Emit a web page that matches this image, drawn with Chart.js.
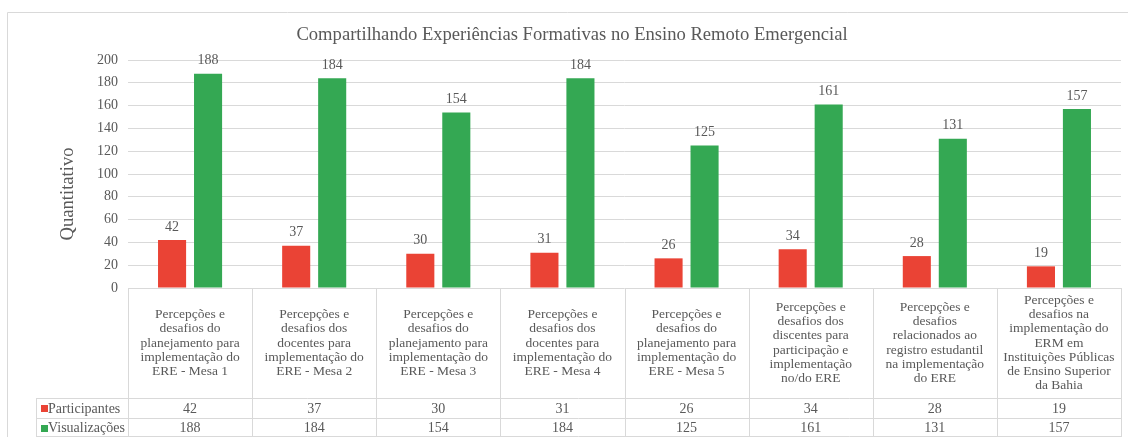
<!DOCTYPE html>
<html>
<head>
<meta charset="utf-8">
<script src="https://cdn.jsdelivr.net/npm/chart.js"></script>
<style>
  html, body { margin: 0; padding: 0; background: #fff; }
  #wrap { width: 1128px; height: 437px; position: relative; }
</style>
</head>
<body>
<div id="wrap"><canvas id="chart"></canvas></div>
<script>
// categories, one array of text lines per table column
const categorias = [
  ["Percepções e", "desafios do", "planejamento para", "implementação do", "ERE - Mesa 1"],
  ["Percepções e", "desafios dos", "docentes para", "implementação do", "ERE - Mesa 2"],
  ["Percepções e", "desafios do", "planejamento para", "implementação do", "ERE - Mesa 3"],
  ["Percepções e", "desafios dos", "docentes para", "implementação do", "ERE - Mesa 4"],
  ["Percepções e", "desafios do", "planejamento para", "implementação do", "ERE - Mesa 5"],
  ["Percepções e", "desafios dos", "discentes para", "participação e", "implementação", "no/do ERE"],
  ["Percepções e", "desafios", "relacionados ao", "registro estudantil", "na implementação", "do ERE"],
  ["Percepções e", "desafios na", "implementação do", "ERM em", "Instituições Públicas", "de Ensino Superior", "da Bahia"]
];
const participantes = [42, 37, 30, 31, 26, 34, 28, 19];
const visualizacoes = [188, 184, 154, 184, 125, 161, 131, 157];
const titulo = "Compartilhando Experiências Formativas no Ensino Remoto Emergencial";
const tituloY = "Quantitativo";

const corVermelho = "#EA4335";
const corVerde = "#34A853";
const corTexto = "#595959";
const corLinha = "#d9d9d9";
const fonte = "'Liberation Serif', 'Times New Roman', serif";

// draws the title, y axis title, data labels and the data table
const tabelaPlugin = {
  id: "tabela",
  afterDraw(chart) {
    const ctx = chart.ctx;
    const x = chart.scales.x;
    const area = chart.chartArea;
    const n = categorias.length;
    const larg = (area.right - area.left) / n;
    const H = chart.height;
    const yCab = 398, yLin1 = 418;
    const esq = 36;

    ctx.save();
    // outer border
    ctx.strokeStyle = corLinha;
    ctx.lineWidth = 1;
    ctx.beginPath();
    ctx.moveTo(7.5, H);
    ctx.lineTo(7.5, 12.5);
    ctx.lineTo(chart.width, 12.5);
    ctx.stroke();

    // title
    ctx.fillStyle = corTexto;
    ctx.font = "18.6px " + fonte;
    ctx.textAlign = "center";
    ctx.textBaseline = "middle";
    ctx.fillText(titulo, 572, 35);

    // y axis title
    ctx.save();
    ctx.translate(68, 194);
    ctx.rotate(-Math.PI / 2);
    ctx.font = "18.6px " + fonte;
    ctx.fillText(tituloY, 0, 0);
    ctx.restore();

    // data labels
    ctx.font = "14px " + fonte;
    chart.data.datasets.forEach((ds, di) => {
      chart.getDatasetMeta(di).data.forEach((bar, i) => {
        ctx.fillText(String(ds.data[i]), bar.x, bar.y - 13);
      });
    });

    // table grid
    ctx.strokeStyle = corLinha;
    ctx.beginPath();
    for (let k = 0; k <= n; k++) {
      const xx = Math.round(area.left + k * larg) + 0.5;
      ctx.moveTo(xx, area.bottom);
      ctx.lineTo(xx, H);
    }
    ctx.moveTo(esq + 0.5, yCab);
    ctx.lineTo(esq + 0.5, H);
    ctx.moveTo(esq, yCab + 0.5);
    ctx.lineTo(area.right, yCab + 0.5);
    ctx.moveTo(esq, yLin1 + 0.5);
    ctx.lineTo(area.right, yLin1 + 0.5);
    ctx.moveTo(esq, H - 0.5);
    ctx.lineTo(area.right, H - 0.5);
    ctx.stroke();

    // category headers
    ctx.fillStyle = corTexto;
    ctx.font = "13.5px " + fonte;
    const lh = 14.3;
    categorias.forEach((linhas, i) => {
      const cx = x.getPixelForValue(i);
      const cy = (area.bottom + yCab) / 2;
      const y0 = cy - (linhas.length - 1) * lh / 2;
      linhas.forEach((t, j) => ctx.fillText(t, cx, y0 + j * lh));
    });

    // value rows
    ctx.font = "14px " + fonte;
    const linhas = [
      { nome: chart.data.datasets[0].label, cor: corVermelho, vals: participantes, y: (yCab + yLin1) / 2 + 1 },
      { nome: chart.data.datasets[1].label, cor: corVerde, vals: visualizacoes, y: (yLin1 + H) / 2 + 1 }
    ];
    linhas.forEach((r) => {
      ctx.fillStyle = r.cor;
      ctx.fillRect(41, Math.round(r.y) - 4, 7, 7);
      ctx.fillStyle = corTexto;
      ctx.textAlign = "left";
      ctx.fillText(r.nome, 48, r.y);
      ctx.textAlign = "center";
      r.vals.forEach((v, i) => ctx.fillText(String(v), x.getPixelForValue(i), r.y));
    });
    ctx.restore();
  }
};

new Chart(document.getElementById("chart"), {
  type: "bar",
  data: {
    labels: categorias,
    datasets: [
      { label: "Participantes", data: participantes, backgroundColor: corVermelho },
      { label: "Visualizações", data: visualizacoes, backgroundColor: corVerde }
    ]
  },
  options: {
    responsive: true,
    maintainAspectRatio: false,
    animation: false,
    layout: { padding: { top: 60, right: 7, bottom: 149, left: 0 } },
    datasets: { bar: { categoryPercentage: 0.58, barPercentage: 0.78 } },
    plugins: {
      legend: { display: false },
      tooltip: { enabled: false },
      title: { display: false }
    },
    scales: {
      x: {
        display: false
      },
      y: {
        min: 0,
        max: 200,
        afterFit(s) { s.width = 128; },
        ticks: {
          stepSize: 10,
          padding: 10,
          color: corTexto,
          font: { family: fonte, size: 14 },
          callback: (v) => (v % 20 === 0 ? v : "")
        },
        grid: {
          drawTicks: false,
          color: (c) => (c.tick.value === 0 ? corLinha : (c.tick.value % 20 === 0 ? "#d9d9d9" : "#f0f0f0"))
        },
        border: { display: false }
      }
    }
  },
  plugins: [tabelaPlugin]
});
</script>
</body>
</html>
